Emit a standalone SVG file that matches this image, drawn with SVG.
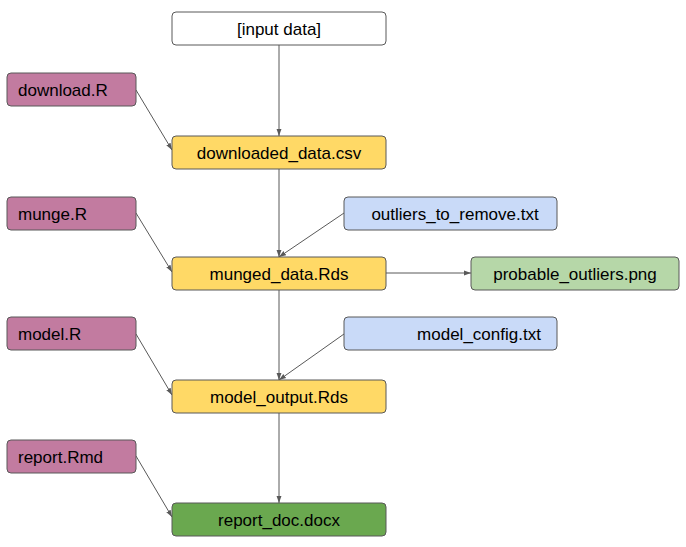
<svg xmlns="http://www.w3.org/2000/svg" width="686" height="547" viewBox="0 0 686 547">
<style>
rect{stroke:#595959;stroke-width:1}
text{font-family:"Liberation Sans",Arial,sans-serif;font-size:17px;fill:#000;dominant-baseline:central}
.c{text-anchor:middle}
.w{fill:#fff}.p{fill:#c27ba0}.y{fill:#ffd966}.b{fill:#c9daf8}.g{fill:#b6d7a8}.d{fill:#6aa84f}
#edges line{stroke:#595959;stroke-width:1;marker-end:url(#a)}
</style>
<defs><marker id="a" viewBox="0 0 10 10" refX="10" refY="5" markerWidth="7" markerHeight="7" orient="auto"><path d="M0,1.5L10,5L0,8.5z" fill="#595959"/></marker></defs>
<g id="edges">
<line x1="279" y1="45" x2="279" y2="136"/>
<line x1="136" y1="90" x2="172" y2="150"/>
<line x1="279" y1="169" x2="279" y2="257"/>
<line x1="136" y1="213" x2="172" y2="272"/>
<line x1="344" y1="213" x2="279" y2="257"/>
<line x1="386" y1="273" x2="471" y2="273"/>
<line x1="279" y1="290" x2="279" y2="380"/>
<line x1="136" y1="334" x2="172" y2="395"/>
<line x1="344" y1="334" x2="279" y2="380"/>
<line x1="279" y1="413" x2="279" y2="503"/>
<line x1="136" y1="456" x2="172" y2="517"/>
</g>
<g id="input"><rect class="w" x="172" y="12" width="214" height="33" rx="4"/><text class="c" x="279" y="29">[input data]</text></g>
<g id="download"><rect class="p" x="7" y="73" width="129" height="33" rx="4"/><text x="18" y="90">download.R</text></g>
<g id="downloaded"><rect class="y" x="172" y="136" width="214" height="33" rx="4"/><text class="c" x="279" y="153">downloaded_data.csv</text></g>
<g id="munge"><rect class="p" x="7" y="197" width="129" height="33" rx="4"/><text x="18" y="214">munge.R</text></g>
<g id="outliers"><rect class="b" x="344" y="197" width="213" height="33" rx="4"/><text class="c" x="455" y="214">outliers_to_remove.txt</text></g>
<g id="munged"><rect class="y" x="172" y="257" width="214" height="33" rx="4"/><text class="c" x="279" y="274">munged_data.Rds</text></g>
<g id="probable"><rect class="g" x="471" y="257" width="208" height="33" rx="4"/><text class="c" x="575" y="274">probable_outliers.png</text></g>
<g id="model"><rect class="p" x="7" y="317" width="129" height="33" rx="4"/><text x="18" y="334">model.R</text></g>
<g id="config"><rect class="b" x="344" y="317" width="213" height="33" rx="4"/><text class="c" x="479" y="334">model_config.txt</text></g>
<g id="output"><rect class="y" x="172" y="380" width="214" height="33" rx="4"/><text class="c" x="279" y="397">model_output.Rds</text></g>
<g id="report"><rect class="p" x="7" y="440" width="129" height="33" rx="4"/><text x="18" y="457">report.Rmd</text></g>
<g id="doc"><rect class="d" x="172" y="503" width="214" height="33" rx="4"/><text class="c" x="279" y="520">report_doc.docx</text></g>
</svg>
